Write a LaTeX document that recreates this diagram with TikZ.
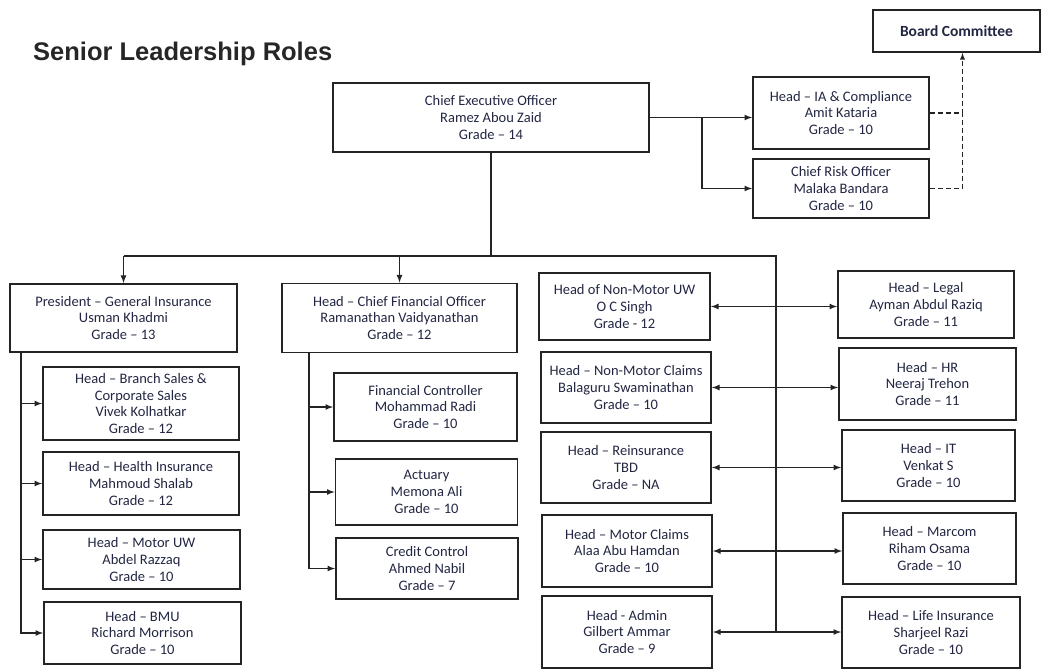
\documentclass[tikz,border=0pt]{standalone}
\usepackage{fontspec}
\setmainfont{Carlito}
\newfontfamily\titlefont{Liberation Sans}
\usepackage{tikz}
\usetikzlibrary{arrows,positioning}
\definecolor{txt}{RGB}{34,38,66}
\definecolor{edge}{RGB}{36,36,36}

\begin{document}
\begin{tikzpicture}[x=1pt,y=-1pt,
    role/.style={draw=edge, line width=1.8pt, align=center, inner sep=0pt, text=txt,
      font=\fontsize{14.5}{16.8}\selectfont},
    link/.style={line width=1.6pt, draw=edge, >=latex}]
      \useasboundingbox (0,0) rectangle (1042,671);

      \node[anchor=base west, inner sep=0pt, text=black!85] (title) at (33,61)
        {\titlefont\bfseries\fontsize{25.5}{30}\selectfont Senior Leadership Roles};

      \node[role, font=\bfseries\fontsize{15.5}{18}\selectfont, minimum width=167pt, minimum height=42pt] (board) at (956.5,31) {Board Committee};
      \node[role, minimum width=316pt, minimum height=69pt] (ceo) at (491,117.5) {Chief Executive Officer\\Ramez Abou Zaid\\Grade -- 14};
      \node[role, minimum width=176pt, minimum height=72pt] (iac) at (841,113) {Head -- IA \& Compliance\\Amit Kataria\\Grade -- 10};
      \node[role, minimum width=176pt, minimum height=59pt] (cro) at (841,188.5) {Chief Risk Officer\\Malaka Bandara\\Grade -- 10};

      \node[role, minimum width=227pt, minimum height=68pt] (pres) at (123.5,318) {President -- General Insurance\\Usman Khadmi\\Grade -- 13};
      \node[role, minimum width=235pt, minimum height=69pt] (cfo) at (399.5,318) {Head -- Chief Financial Officer\\Ramanathan Vaidyanathan\\Grade -- 12};

      \node[role, minimum width=196pt, minimum height=73pt] (bsales) at (141,403.5) {Head -- Branch Sales \&\\Corporate Sales\\Vivek Kolhatkar\\Grade -- 12};
      \node[role, minimum width=196pt, minimum height=63pt] (health) at (141,483.5) {Head -- Health Insurance\\Mahmoud Shalab\\Grade -- 12};
      \node[role, minimum width=197pt, minimum height=59pt] (motoruw) at (141.5,559.5) {Head -- Motor UW\\Abdel Razzaq\\Grade -- 10};
      \node[role, minimum width=197pt, minimum height=62pt] (bmu) at (142.5,633) {Head -- BMU\\Richard Morrison\\Grade -- 10};

      \node[role, minimum width=183pt, minimum height=68pt] (fc) at (425.5,407) {Financial Controller\\Mohammad Radi\\Grade -- 10};
      \node[role, minimum width=182pt, minimum height=66pt] (act) at (426.5,492) {Actuary\\Memona Ali\\Grade -- 10};
      \node[role, minimum width=182pt, minimum height=61pt] (credit) at (427,568.5) {Credit Control\\Ahmed Nabil\\Grade -- 7};

      \node[role, minimum width=171pt, minimum height=67pt] (nmuw) at (624.5,306.5) {Head of Non-Motor UW\\O C Singh\\Grade - 12};
      \node[role, minimum width=170pt, minimum height=71pt] (nmclaims) at (626,387.5) {Head -- Non-Motor Claims\\Balaguru Swaminathan\\Grade -- 10};
      \node[role, minimum width=170pt, minimum height=71pt] (reins) at (626,467.5) {Head -- Reinsurance\\TBD\\Grade -- NA};
      \node[role, minimum width=170pt, minimum height=72pt] (mclaims) at (627,551) {Head -- Motor Claims\\Alaa Abu Hamdan\\Grade -- 10};
      \node[role, minimum width=170pt, minimum height=72pt] (admin) at (627,632) {Head - Admin\\Gilbert Ammar\\Grade -- 9};

      \node[role, minimum width=176pt, minimum height=67pt] (legal) at (926,304.5) {Head -- Legal\\Ayman Abdul Raziq\\Grade -- 11};
      \node[role, minimum width=177pt, minimum height=72pt] (hr) at (927.5,384) {Head -- HR\\Neeraj Trehon\\Grade -- 11};
      \node[role, minimum width=173pt, minimum height=71pt] (it) at (928.5,465.5) {Head -- IT\\Venkat S\\Grade -- 10};
      \node[role, minimum width=173pt, minimum height=71pt] (marcom) at (929.5,548.5) {Head -- Marcom\\Riham Osama\\Grade -- 10};
      \node[role, minimum width=178pt, minimum height=71pt] (life) at (931,632.5) {Head -- Life Insurance\\Sharjeel Razi\\Grade -- 10};

      % CEO to the two side roles and the board
      \coordinate (jr) at (702,0);
      \draw[link,->] (ceo.east) -- (ceo.east -| iac.west);
      \draw[link,->] (ceo.east -| jr) |- (cro.west);
      \coordinate (bd) at ([xshift=6pt]board.south);
      \draw[link,line width=1.3pt,->,dash pattern=on 5pt off 3pt] (iac.east) -| (bd);
      \draw[link,line width=1.3pt,dash pattern=on 5pt off 3pt] (cro.east) -| (bd |- iac.east);

      % CEO down to the bus
      \coordinate (bus) at (0,256);
      \coordinate (busr) at (776,256);
      \draw[link] (ceo.south) -- (ceo.south |- bus);
      \draw[link] (pres.north |- bus) -- (busr) -- (busr |- admin.east);
      \draw[link,->] (pres.north |- bus) -- (pres.north);
      \draw[link,->] (cfo.north |- bus) -- (cfo.north);

      % general insurance
      \coordinate (pl) at (21,0);
      \draw[link,->] (pres.south -| pl) |- (bmu.west);
      \foreach \n in {bsales,health,motoruw}
        \draw[link,->] (\n.west -| pl) -- (\n.west);

      % finance
      \coordinate (cl) at (309,0);
      \draw[link,->] (cfo.south -| cl) |- (credit.west);
      \foreach \n in {fc,act}
        \draw[link,->] (\n.west -| cl) -- (\n.west);

      % pairs on the right
      \foreach \a/\b in {nmuw/legal,nmclaims/hr,reins/it,mclaims/marcom,admin/life}
        \draw[link,<->] (\a.east) -- (\a.east -| \b.west);
\end{tikzpicture}
\end{document}
